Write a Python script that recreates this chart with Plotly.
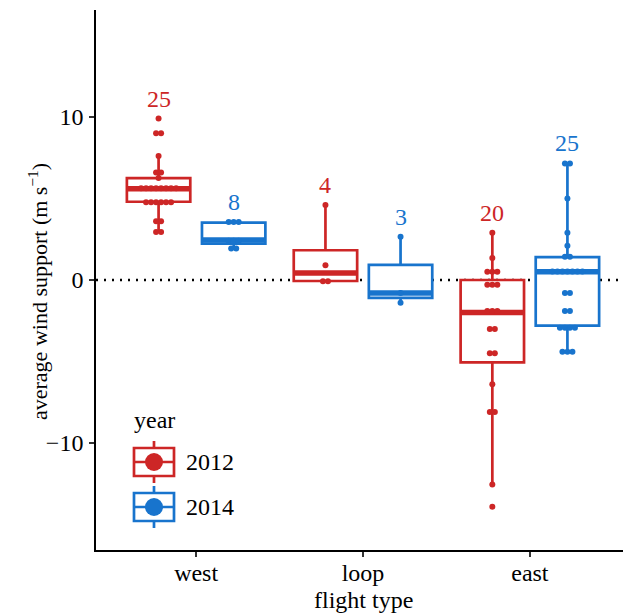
import numpy as np
import plotly.graph_objects as go

# ---------------- data ----------------
flight_types = ["west", "loop", "east"]
years = ["2012", "2014"]
year_colors = ["#CD2626", "#1874CD"]

west_2012 = [2.9, 3.0, 3.6, 3.6, 4.7, 4.75, 4.8, 4.8, 4.8, 4.85,
             5.5, 5.55, 5.6, 5.6, 5.65, 5.7, 5.7, 5.75,
             6.25, 6.6, 6.6, 7.6, 9.0, 9.0, 9.9]
west_2014 = [1.85, 2.0, 2.3, 2.4, 2.5, 3.5, 3.6, 3.6]
loop_2012 = [-0.1, -0.05, 0.9, 4.6]
loop_2014 = [-1.4, -0.8, 2.65]
east_2012 = [-13.9, -12.55, -8.1, -8.1, -6.4, -4.6, -4.4, -3.0, -3.0,
             -2.0, -2.0, -1.8, -0.42, -0.35, -0.15, 0.45, 0.5, 0.55, 1.35, 2.9]
east_2014 = [-4.4, -4.4, -4.4, -3.05, -3.0, -2.95, -2.8, -1.9, -1.9,
             -0.8, -0.8, 0.45, 0.5, 0.5, 0.5, 0.55, 0.55, 0.6,
             1.4, 1.45, 2.1, 2.9, 5.0, 7.1, 7.2]

y_tick_values = [-10, 0, 10]

groups = {
    "2012": [west_2012, loop_2012, east_2012],
    "2014": [west_2014, loop_2014, east_2014],
}

# ---------------- layout constants ----------------
FONT = "Liberation Serif"
FS = 24
FS_YTITLE = 22
DODGE = 0.225
BOX_W = 0.38
BIN_W = 0.3
STACK_STEP = 0.03
PAGE_OFF = 8                      # default page body margin
W, H = 631 - PAGE_OFF, 613 - PAGE_OFF
# plot panel in screen pixels: x 96..630, y 10..550
ML = 96 - PAGE_OFF
MT = 10 - PAGE_OFF
MR = W - (630 - PAGE_OFF)
MB = H - (550 - PAGE_OFF)
PW, PH = W - ML - MR, H - MT - MB


def box_stats(v):
    a = np.sort(np.asarray(v, float))
    q1, med, q3 = np.percentile(a, [25, 50, 75])
    iqr = q3 - q1
    lo = a[a >= q1 - 1.5 * iqr].min()
    hi = a[a <= q3 + 1.5 * iqr].max()
    return q1, med, q3, lo, hi


def dot_positions(v, center):
    a = np.sort(np.asarray(v, float))
    xs, ys = [], []
    i = 0
    while i < len(a):
        j = i
        while j + 1 < len(a) and a[j + 1] - a[i] < BIN_W - 1e-9:
            j += 1
        b = a[i:j + 1]
        yc = (b.min() + b.max()) / 2
        n = len(b)
        for k in range(n):
            xs.append(center + (k - (n - 1) / 2) * STACK_STEP)
            ys.append(yc)
        i = j + 1
    return xs, ys


fig = go.Figure()
annotations = []

for yi, (yr, col) in enumerate(zip(years, year_colors)):
    off = -DODGE if yi == 0 else DODGE
    xs = [i + off for i in range(len(flight_types))]
    stats = [box_stats(v) for v in groups[yr]]
    fig.add_trace(go.Box(
        x=xs,
        q1=[s[0] for s in stats], median=[s[1] for s in stats],
        q3=[s[2] for s in stats], lowerfence=[s[3] for s in stats],
        upperfence=[s[4] for s in stats],
        width=BOX_W, whiskerwidth=0, fillcolor="white",
        line=dict(color=col, width=2.7), boxpoints=False,
        showlegend=False, hoverinfo="skip",
    ))
    mx, my = [], []
    for x, s in zip(xs, stats):
        mx += [x - BOX_W / 2, x + BOX_W / 2, None]
        my += [s[1], s[1], None]
    fig.add_trace(go.Scatter(x=mx, y=my, mode="lines",
                             line=dict(color=col, width=5.5),
                             showlegend=False, hoverinfo="skip"))
    dx, dy = [], []
    for x, v in zip(xs, groups[yr]):
        a, b = dot_positions(v, x)
        dx += a
        dy += b
    fig.add_trace(go.Scatter(x=dx, y=dy, mode="markers",
                             marker=dict(color=col, size=6),
                             showlegend=False, hoverinfo="skip"))
    for x, v in zip(xs, groups[yr]):
        annotations.append(dict(x=x, y=max(v) + 1.2, xref="x", yref="y",
                                text=str(len(v)), showarrow=False,
                                font=dict(family=FONT, size=FS, color=col),
                                yanchor="middle"))


def px(xscreen):
    return (xscreen - PAGE_OFF - ML) / PW


def py(yscreen):
    return (H - MB - (yscreen - PAGE_OFF)) / PH


shapes = [dict(type="line", xref="paper", yref="y", x0=0, x1=1, y0=0, y1=0,
               line=dict(color="black", width=2.5, dash="2px,6px"), layer="below")]

# axis titles
annotations.append(dict(x=0.5, y=py(600), xref="paper", yref="paper",
                        text="flight type", showarrow=False,
                        xanchor="center", yanchor="middle",
                        font=dict(family=FONT, size=FS, color="black")))
annotations.append(dict(x=px(38), y=py(292), xref="paper", yref="paper",
                        text="average wind support (m s<sup>−1</sup>)", showarrow=False,
                        textangle=-90, xanchor="center", yanchor="middle",
                        font=dict(family=FONT, size=FS_YTITLE, color="black")))

# custom legend
annotations.append(dict(x=px(132), y=py(420), xref="paper", yref="paper",
                        text="year", showarrow=False, xanchor="left", yanchor="middle",
                        font=dict(family=FONT, size=FS, color="black")))
for k, (yr, col) in enumerate(zip(years, year_colors)):
    cy = 462 + 45 * k
    cx = 154
    shapes.append(dict(type="line", xref="paper", yref="paper",
                       x0=px(cx), x1=px(cx), y0=py(cy - 21), y1=py(cy + 21),
                       line=dict(color=col, width=2.7)))
    shapes.append(dict(type="rect", xref="paper", yref="paper",
                       x0=px(134), x1=px(174), y0=py(cy - 14), y1=py(cy + 14),
                       line=dict(color=col, width=2.7), fillcolor="white"))
    shapes.append(dict(type="line", xref="paper", yref="paper",
                       x0=px(134), x1=px(174), y0=py(cy), y1=py(cy),
                       line=dict(color=col, width=2.7)))
    shapes.append(dict(type="circle", xref="paper", yref="paper",
                       x0=px(cx - 9), x1=px(cx + 9), y0=py(cy - 9), y1=py(cy + 9),
                       line=dict(color=col, width=0), fillcolor=col))
    annotations.append(dict(x=px(184), y=py(cy), xref="paper", yref="paper",
                            text=yr, showarrow=False, xanchor="left", yanchor="middle",
                            font=dict(family=FONT, size=FS, color="black")))

fig.update_layout(
    width=W, height=H,
    margin=dict(l=ML, r=MR, t=MT, b=MB, autoexpand=False),
    plot_bgcolor="white", paper_bgcolor="white",
    boxmode="overlay",
    showlegend=False,
    shapes=shapes,
    annotations=annotations,
    font=dict(family=FONT, size=FS, color="black"),
    xaxis=dict(range=[-0.6, 2.6], tickmode="array",
               tickvals=list(range(len(flight_types))), ticktext=flight_types,
               showline=True, linecolor="black", linewidth=1.6,
               ticks="outside", ticklen=5, tickcolor="#333333", tickwidth=1.6,
               showgrid=False, zeroline=False, automargin=False,
               ticklabelstandoff=-5,
               tickfont=dict(family=FONT, size=FS, color="black")),
    yaxis=dict(range=[-16.56, 16.56], tickmode="array", tickvals=y_tick_values,
               showline=True, linecolor="black", linewidth=1.6,
               ticks="outside", ticklen=5, tickcolor="#333333", tickwidth=1.6,
               showgrid=False, zeroline=False, automargin=False,
               ticklabelstandoff=1,
               tickfont=dict(family=FONT, size=FS, color="black")),
)

fig.write_html("out.html")
